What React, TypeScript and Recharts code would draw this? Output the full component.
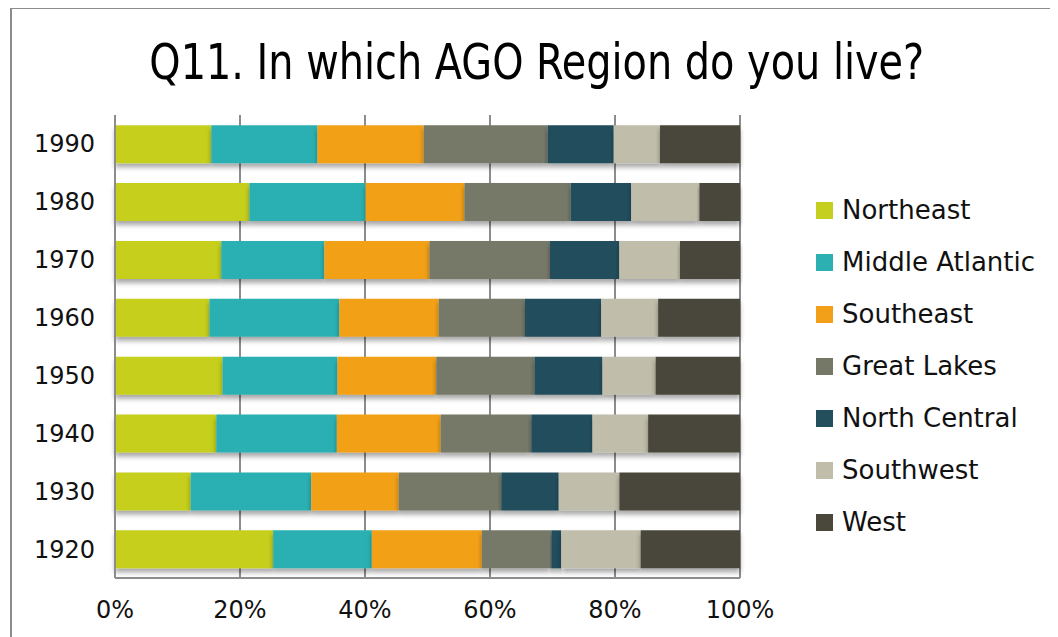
import React from "react"
import { BarChart, Bar, XAxis, YAxis, CartesianGrid, Legend, Rectangle } from "recharts"

const years = ["1990", "1980", "1970", "1960", "1950", "1940", "1930", "1920"]
const regions = ["Northeast", "Middle Atlantic", "Southeast", "Great Lakes", "North Central", "Southwest", "West"]

// share of respondents (%) per decade
const northeast = [15.4, 21.5, 17.0, 15.1, 17.2, 16.2, 12.1, 25.3]
const middleAtlantic = [17.0, 18.6, 16.5, 20.8, 18.4, 19.3, 19.3, 15.8]
const southeast = [17.0, 15.8, 16.8, 15.9, 15.8, 16.6, 14.0, 17.6]
const greatLakes = [19.8, 17.0, 19.3, 13.8, 15.7, 14.5, 16.4, 11.1]
const northCentral = [10.6, 9.7, 11.1, 12.2, 10.9, 9.8, 9.2, 1.6]
const southwest = [7.4, 10.9, 9.7, 9.1, 8.5, 8.9, 9.7, 12.7]
const west = [12.8, 6.5, 9.6, 13.1, 13.5, 14.7, 19.3, 15.9]

const xTicks = [0, 0.2, 0.4, 0.6, 0.8, 1]

const colors = ["#C5CF1F", "#2CB0B2", "#F2A019", "#767867", "#234E5C", "#C0BDAA", "#4A473B"]

const series = [northeast, middleAtlantic, southeast, greatLakes, northCentral, southwest, west]

const data = years.map((year, i) => {
  const row: Record<string, string | number> = { year }
  regions.forEach((r, j) => {
    row[r] = series[j][i]
  })
  return row
})

const font = "'DejaVu Sans', 'Open Sans', sans-serif"

function LegendBox() {
  return (
    <div style={{ fontFamily: font }}>
      {regions.map((r, i) => (
        <div key={r} style={{ display: "flex", alignItems: "center", height: 52 }}>
          <div style={{ width: 17, height: 17, background: colors[i], marginRight: 9 }} />
          <span style={{ fontSize: 26, color: "#111" }}>{r}</span>
        </div>
      ))}
    </div>
  )
}

const ShadowRect = (props: any) => <Rectangle {...props} filter="url(#barShadow)" />

export default function App() {
  return (
    <div style={{ position: "relative", width: 1050, height: 629, background: "#fff" }}>
      <div
        style={{
          position: "absolute",
          left: 2,
          top: -1,
          width: 1046,
          height: 628,
          borderLeft: "2px solid #8c8c8c",
          borderTop: "2px solid #8c8c8c",
        }}
      />
      <div
        style={{
          position: "absolute",
          left: 0,
          top: 25,
          width: 1058,
          textAlign: "center",
        }}
      >
        <span
          style={{
            display: "inline-block",
            transform: "scaleX(0.885)",
            fontFamily: "'DejaVu Sans Condensed', 'DejaVu Sans', sans-serif",
            fontSize: 50,
            color: "#000",
            whiteSpace: "nowrap",
          }}
        >
          Q11. In which AGO Region do you live?
        </span>
      </div>
      <BarChart
        width={1050}
        height={629}
        data={data}
        layout="vertical"
        stackOffset="expand"
        barCategoryGap="17.6%"
        margin={{ top: 107, right: 78, bottom: 19, left: 0 }}
        style={{ position: "absolute", left: 0, top: 0 }}
      >
        <defs>
          <filter id="barShadow" x="-5%" y="-20%" width="110%" height="160%">
            <feDropShadow dx="0" dy="4" stdDeviation="2.5" floodColor="#000" floodOpacity="0.35" />
          </filter>
        </defs>
        <CartesianGrid horizontal={false} stroke="#8c8c8c" strokeWidth={2} />
        <XAxis
          type="number"
          domain={[0, 1]}
          ticks={xTicks}
          tickFormatter={(v: number) => `${Math.round(v * 100)}%`}
          axisLine={{ stroke: "#8c8c8c", strokeWidth: 2 }}
          tickLine={false}
          tickSize={0}
          tickMargin={23}
          height={40}
          tick={{ fill: "#111", fontSize: 24, fontFamily: font }}
        />
        <YAxis
          type="category"
          dataKey="year"
          width={107}
          axisLine={{ stroke: "#8c8c8c", strokeWidth: 2 }}
          tickLine={false}
          tickSize={0}
          tickMargin={20}
          tick={{ fill: "#111", fontSize: 24, fontFamily: font }}
        />
        <Legend
          layout="vertical"
          align="right"
          verticalAlign="top"
          content={() => <LegendBox />}
          wrapperStyle={{ position: "absolute", left: 808, top: 176, width: 240 }}
        />
        {regions.map((r, i) => (
          <Bar
            key={r}
            dataKey={r}
            stackId="a"
            fill={colors[i]}
            isAnimationActive={false}
            shape={ShadowRect}
          />
        ))}
      </BarChart>
    </div>
  )
}
